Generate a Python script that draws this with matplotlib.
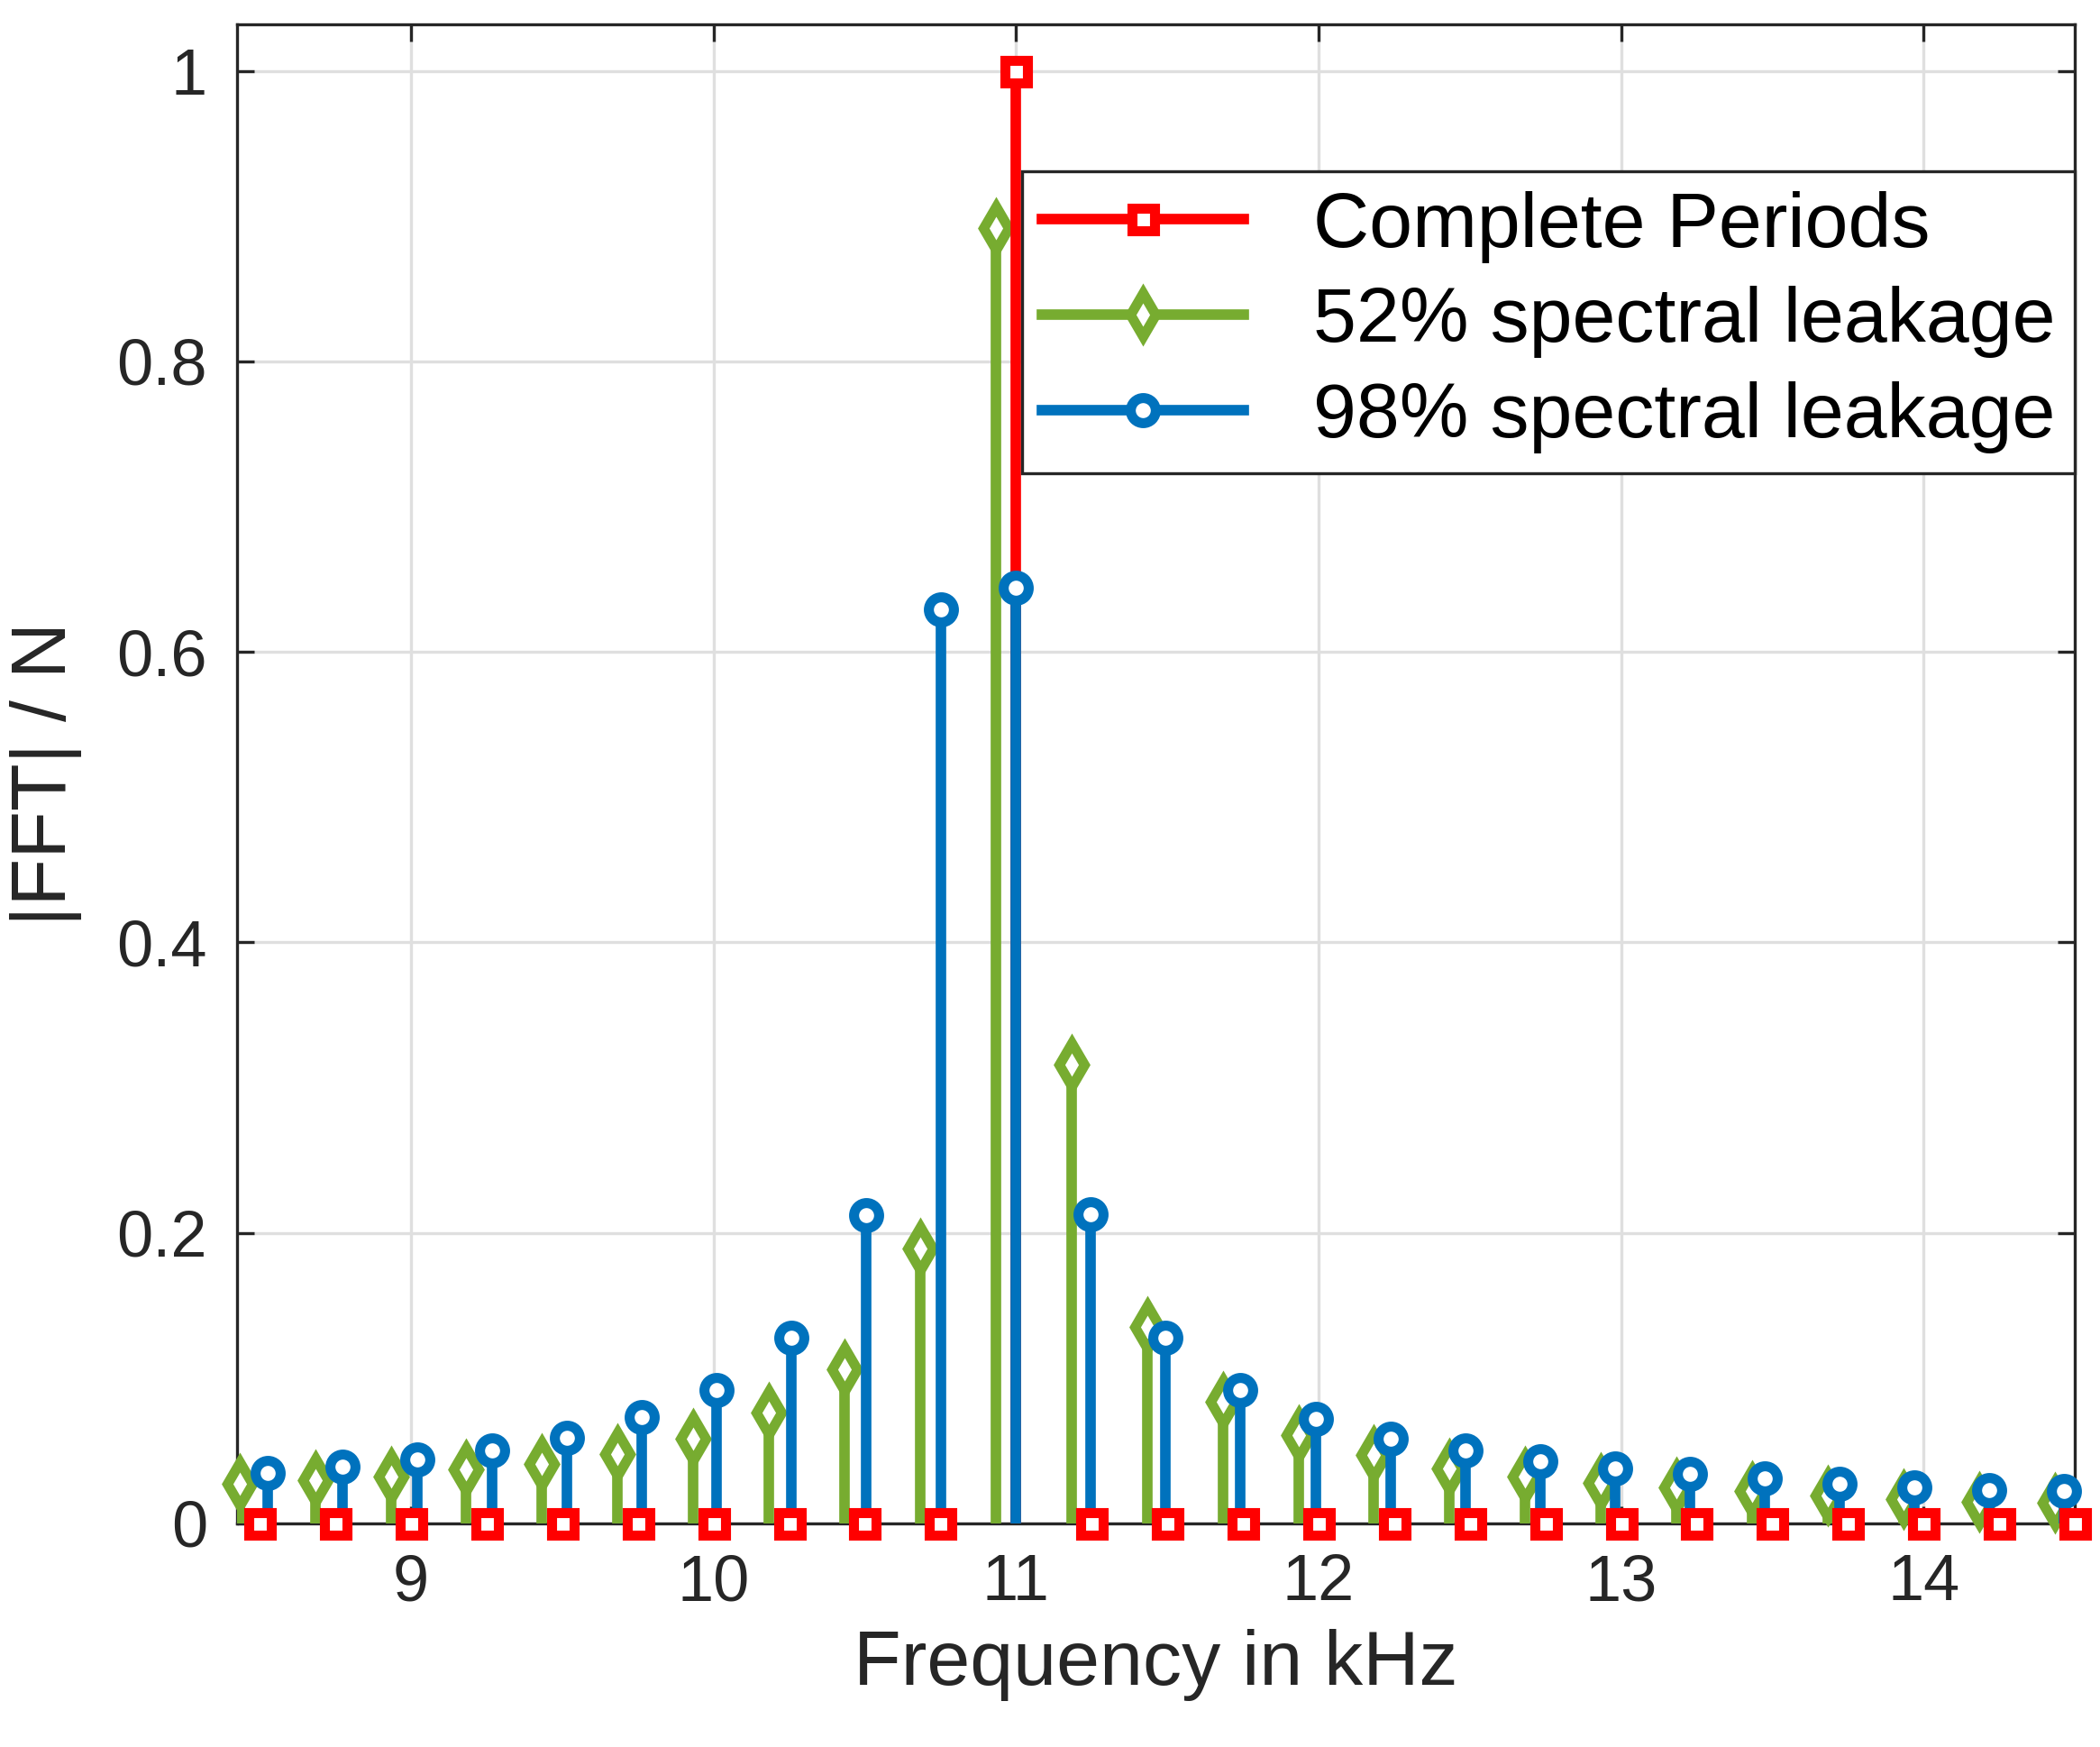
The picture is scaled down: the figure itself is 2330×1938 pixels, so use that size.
import numpy as np
import matplotlib
matplotlib.use("Agg")
import matplotlib.pyplot as plt
from matplotlib.lines import Line2D

plt.rcParams['font.family'] = ['Liberation Sans', 'DejaVu Sans']

red_x = [8.5 + 0.25 * k for k in range(25)]
red_y = [1.0 if abs(x - 11.0) < 1e-9 else 0.0 for x in red_x]

green_x = [10.9333 + 0.25 * k for k in range(-10, 15)]
green_y = [0.027, 0.030, 0.032, 0.037, 0.041, 0.048, 0.058, 0.076, 0.106, 0.189,
           0.892, 0.316, 0.135, 0.084, 0.061, 0.047, 0.038, 0.032, 0.028, 0.025,
           0.022, 0.019, 0.017, 0.015, 0.014]

blue_x = [11.0 + 0.2475 * k for k in range(-10, 15)]
blue_y = [0.035, 0.039, 0.044, 0.050, 0.059, 0.073, 0.092, 0.128, 0.212, 0.629,
          0.644, 0.213, 0.128, 0.092, 0.072, 0.058, 0.050, 0.043, 0.038, 0.034,
          0.031, 0.027, 0.025, 0.023, 0.022]

RED, GREEN, BLUE = '#FF0000', '#77AC30', '#0072BD'
lw, ms, mew = 4.2, 10, 4.0

fig = plt.figure(figsize=(11.65, 9.69), dpi=200)
ax = fig.add_axes([0.113, 0.128, 0.875, 0.858])

def stem(x, y, c, m, zl, zm, size=ms):
    ax.vlines(x, 0, y, colors=c, lw=lw, zorder=zl)
    ax.plot(x, y, ls='none', marker=m, ms=size, mfc='white', mec=c, mew=mew,
            zorder=zm, clip_on=False)

stem(green_x, green_y, GREEN, 'd', 3, 4, 12)
stem(red_x, red_y, RED, 's', 5, 8, 9)
stem(blue_x, blue_y, BLUE, 'o', 6, 7, 10)

ax.set_xlim(8.426, 14.5)
ax.set_ylim(0, 1.032)
ax.set_xticks([9, 10, 11, 12, 13, 14])
ax.set_yticks([0, 0.2, 0.4, 0.6, 0.8, 1])
ax.set_yticklabels(['0', '0.2', '0.4', '0.6', '0.8', '1'])
ax.grid(True, color='#DFDFDF', lw=1.2)
ax.set_axisbelow(True)
ax.tick_params(direction='in', top=True, right=True, labelsize=26, length=7,
               width=1.2, colors='#262626', pad=12)
for s in ax.spines.values():
    s.set_linewidth(1.2)
    s.set_color('#262626')
ax.set_xlabel('Frequency in kHz', fontsize=31, color='#262626', labelpad=6)
ax.set_ylabel('|FFT| / N', fontsize=31, color='#262626', labelpad=14)

handles = [Line2D([0, 1], [0, 0], color=RED, lw=lw, marker='s', ms=9, mfc='white', mec=RED, mew=mew, markevery=[1]),
           Line2D([0, 1], [0, 0], color=GREEN, lw=lw, marker='d', ms=12, mfc='white', mec=GREEN, mew=mew, markevery=[1]),
           Line2D([0, 1], [0, 0], color=BLUE, lw=lw, marker='o', ms=10, mfc='white', mec=BLUE, mew=mew, markevery=[1])]
leg = ax.legend(handles, ['Complete Periods', '52% spectral leakage', '98% spectral leakage'],
                loc='upper right', bbox_to_anchor=(1.0, 0.902), fontsize=31,
                fancybox=False, framealpha=1, edgecolor='#262626', borderaxespad=0,
                handlelength=2.6, labelspacing=0.3, borderpad=0.25, handletextpad=0.9)
leg.get_frame().set_linewidth(1.2)

fig.savefig('out.png', dpi=200)
